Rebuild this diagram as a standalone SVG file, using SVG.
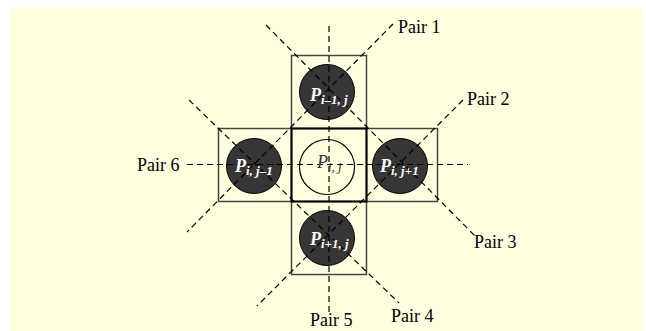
<svg xmlns="http://www.w3.org/2000/svg" width="646" height="331" viewBox="0 0 646 331">
<style>
.bg{fill:#FFFFE0}
.box{fill:none;stroke:#444;stroke-width:1.5}
.cbox{fill:none;stroke:#000;stroke-width:2}
.dark{fill:#363636;stroke:#000;stroke-width:1}
.light{fill:#FFFFE0;stroke:#000;stroke-width:1.2}
.dash{stroke:#000;stroke-width:1.2;stroke-dasharray:6 4;fill:none}
.pair{font-family:"Liberation Serif",serif;font-size:18px;fill:#000}
.nl{font-family:"Liberation Serif",serif;font-size:18px;font-weight:bold;font-style:italic;fill:#fff}
.cl{font-family:"Liberation Serif",serif;font-size:18px;font-style:italic;fill:#333}
.sub{font-size:13px}
</style>
<rect class="bg" x="10" y="8" width="633" height="323"/>
<g id="node-top">
<rect class="box" x="291.5" y="55.5" width="75" height="73"/>
<circle class="dark" cx="327" cy="92" r="27.5"/>
</g>
<g id="node-left">
<rect class="box" x="218.5" y="128.5" width="73" height="73"/>
<circle class="dark" cx="254" cy="166" r="27.5"/>
</g>
<g id="node-right">
<rect class="box" x="366.5" y="128.5" width="71" height="73"/>
<circle class="dark" cx="400" cy="166" r="27.5"/>
</g>
<g id="node-bottom">
<rect class="box" x="291.5" y="201.5" width="75" height="73"/>
<circle class="dark" cx="327" cy="238" r="27.5"/>
</g>
<g id="node-center">
<rect class="cbox" x="291.5" y="128.5" width="75" height="73"/>
<circle class="light" cx="327" cy="167" r="27.5"/>
</g>
<g id="connectors">
<line class="dash" x1="393" y1="24" x2="187" y2="232"/>
<line class="dash" x1="463" y1="100" x2="257" y2="306"/>
<line class="dash" x1="266" y1="25" x2="475" y2="236"/>
<line class="dash" x1="189" y1="100" x2="399" y2="303"/>
<line class="dash" x1="329" y1="26" x2="329" y2="312"/>
<line class="dash" x1="187" y1="164.5" x2="468" y2="164.5"/>
</g>
<g id="node-labels">
<text class="nl" x="310" y="101">P<tspan class="sub" dy="3">i–1, j</tspan></text>
<text class="nl" x="235" y="172">P<tspan class="sub" dy="3">i, j–1</tspan></text>
<text class="nl" x="380" y="172">P<tspan class="sub" dy="3">i, j+1</tspan></text>
<text class="nl" x="310" y="245">P<tspan class="sub" dy="3">i+1, j</tspan></text>
<text class="cl" x="317" y="168">P<tspan class="sub" dy="3">i, j</tspan></text>
</g>
<g id="pair-labels">
<text class="pair" x="398" y="33">Pair 1</text>
<text class="pair" x="467" y="105">Pair 2</text>
<text class="pair" x="474" y="248">Pair 3</text>
<text class="pair" x="391" y="322">Pair 4</text>
<text class="pair" x="310" y="326">Pair 5</text>
<text class="pair" x="137" y="171">Pair 6</text>
</g>
</svg>
